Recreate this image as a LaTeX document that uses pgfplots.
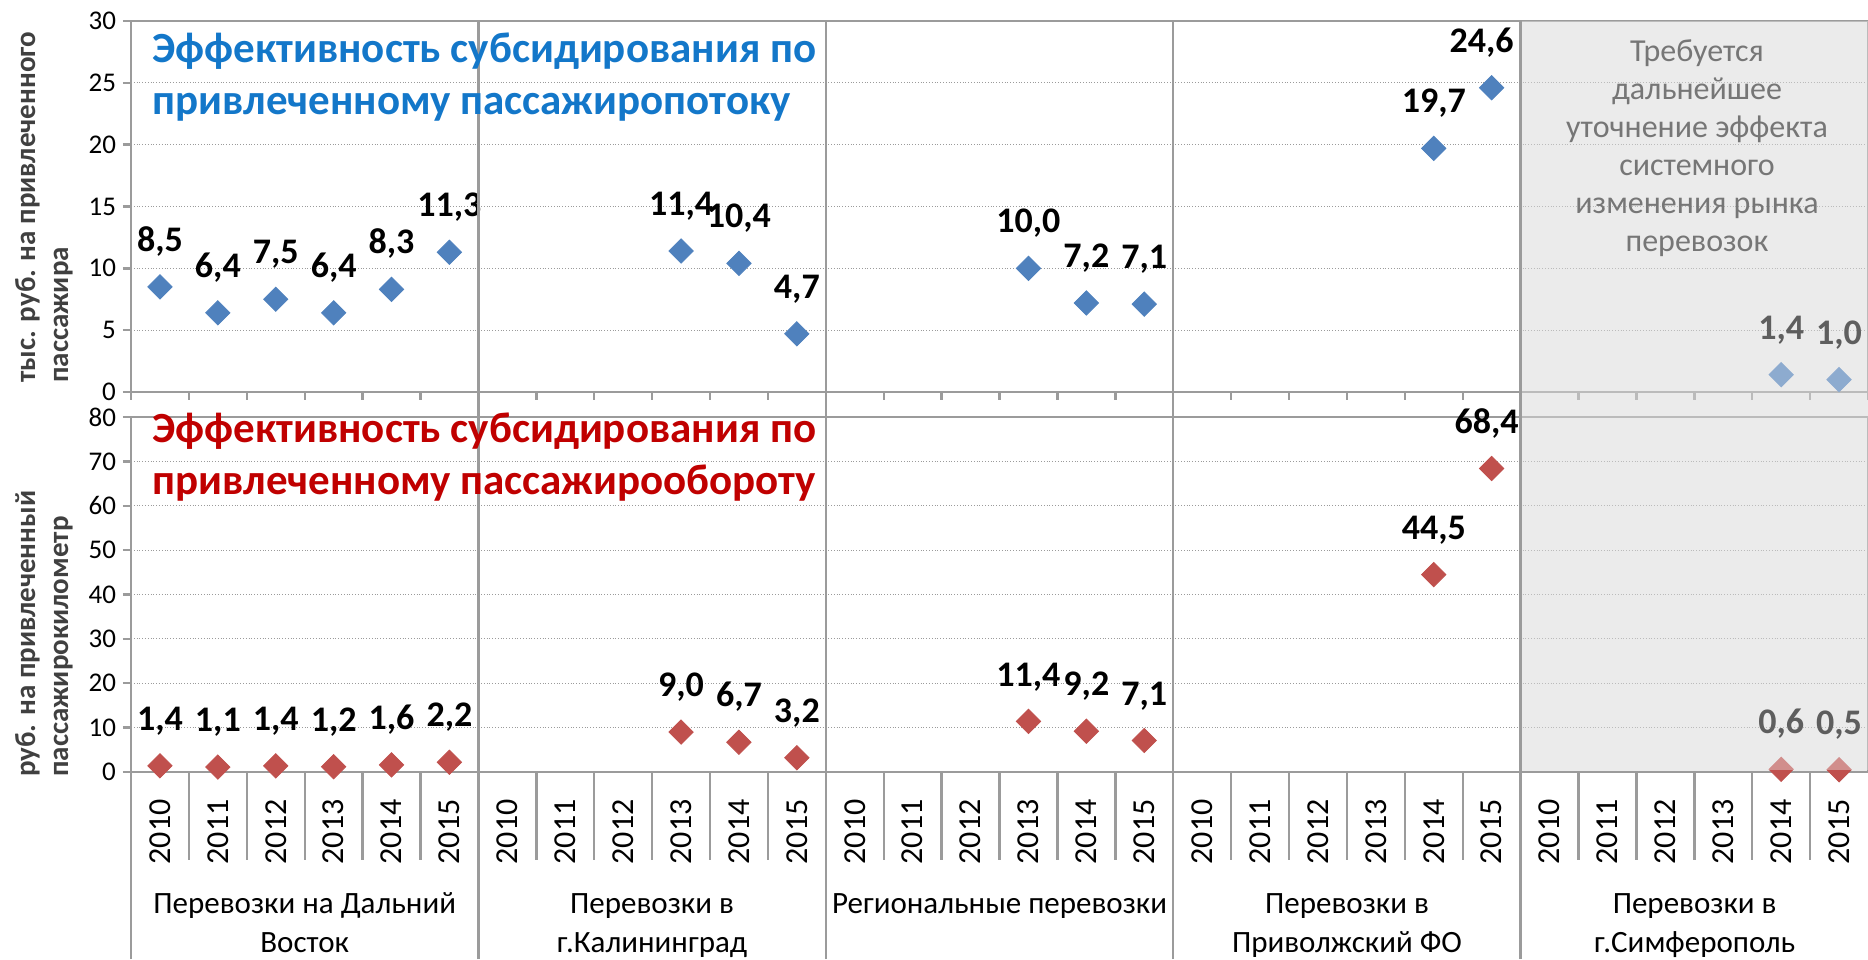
\documentclass[border=0pt]{standalone}
\usepackage{pgfplots}
\usepackage{pgfplotstable}
\pgfplotsset{compat=1.18}
\usepackage{fontspec}
\setmainfont{Carlito}
\definecolor{cblue}{HTML}{4F81BD}
\definecolor{cred}{HTML}{C0504D}
\definecolor{tblue}{HTML}{1377C9}
\definecolor{tred}{HTML}{C00000}
\definecolor{greybg}{HTML}{EBEBEB}
\definecolor{axgray}{HTML}{9B9B9B}
\definecolor{gridgray}{HTML}{9B9B9B}
\definecolor{txtgray}{HTML}{767676}
\definecolor{ytitle}{HTML}{404040}

\pgfplotstableread{
x y dx
0 8.5 0
1 6.4 0
2 7.5 0
3 6.4 0
4 8.3 0
5 11.3 0
9 11.4 0
10 10.4 0
11 4.7 0
15 10.0 0
16 7.2 0
17 7.1 0
22 19.7 0
23 24.6 -5
28 1.4 0
29 1.0 0
}\topdata

\pgfplotstableread{
x y dx
0 1.4 0
1 1.1 0
2 1.4 0
3 1.2 0
4 1.6 0
5 2.2 0
9 9.0 0
10 6.7 0
11 3.2 0
15 11.4 0
16 9.2 0
17 7.1 0
22 44.5 0
23 68.4 -2.5
28 0.6 0
29 0.5 0
}\botdata

\pgfplotsset{
  panel/.style={
    scale only axis, width=868.5pt, xmin=-0.5, xmax=29.5,
    anchor=south west, clip=false,
    axis line style={axgray, line width=1.2pt},
    ymajorgrids, grid style={densely dotted, gridgray, line width=0.6pt},
    tick align=outside, major tick length=4pt,
    tick style={axgray, line width=1.2pt},
    ytick pos=left, xtick pos=lower,
    /pgf/number format/assume math mode=true,
    yticklabel style={font=\fontsize{13.5pt}{14pt}\selectfont, text=black},
  },
  dmark/.style={only marks, mark=square*, mark size=4.3pt, mark options={rotate=45, draw=#1, fill=#1},
    visualization depends on={\thisrow{dx} \as \dx},
    nodes near coords={\pgfmathprintnumber[fixed,fixed zerofill,precision=1,use comma]{\pgfplotspointmeta}},
    every node near coord/.append style={font=\bfseries\fontsize{18pt}{18pt}\selectfont, text=black, inner sep=0pt, text depth=0pt, yshift=17.5pt, xshift=\dx pt},
  },
}

\begin{document}
\begin{tikzpicture}
\path[use as bounding box] (0pt,0pt) rectangle (934pt,479.5pt);
\fill[greybg] (760.3pt,93.5pt) rectangle (934pt,469pt);

\begin{axis}[panel, at={(65.5pt,283.5pt)}, height=185.5pt,
  ymin=0, ymax=30, ytick={0,5,...,30},
  xtick={-0.5,0.5,...,29.5}, xticklabels={}]
\addplot[dmark=cblue] table {\topdata};
\end{axis}

\begin{axis}[panel, at={(65.5pt,93.5pt)}, height=177.5pt,
  ymin=0, ymax=80, ytick={0,10,...,80},
  xtick={0,...,29},
  xticklabels={2010,2011,2012,2013,2014,2015,2010,2011,2012,2013,2014,2015,2010,2011,2012,2013,2014,2015,2010,2011,2012,2013,2014,2015,2010,2011,2012,2013,2014,2015},
  x tick style={draw=none},
  xticklabel style={rotate=90, anchor=east, font=\fontsize{16pt}{16pt}\selectfont, text=black},
  xticklabel shift=6.2pt]
\addplot[dmark=cred] table {\botdata};
\pgfplotsinvokeforeach{0.5,1.5,...,28.5}{\draw[axgray, line width=1.2pt] (axis cs:#1,0) -- ([yshift=-44pt]axis cs:#1,0);}
\end{axis}

% overlay lightening the last group
\fill[greybg, fill opacity=0.4] (760.3pt,94.3pt) rectangle (934pt,469pt);
\foreach \gx in {239.2,412.9,586.6,760.3} \draw[axgray, line width=1.2pt] (\gx pt,0pt) -- (\gx pt,469.6pt);
\draw[axgray, line width=1.2pt] (65.5pt,0pt) -- (65.5pt,93.5pt);

% titles
\begin{scope}[every node/.style={anchor=base west, inner sep=0pt, font=\bfseries\fontsize{21.5pt}{24pt}\selectfont}]
\node[text=tblue] at (76pt,448pt) {Эффективность субсидирования по};
\node[text=tblue] at (76pt,422pt) {привлеченному пассажиропотоку};
\node[text=tred] at (76pt,258pt) {Эффективность субсидирования по};
\node[text=tred] at (76pt,232pt) {привлеченному пассажирообороту};
\end{scope}

% y titles
\begin{scope}[every node/.style={rotate=90, anchor=base west, inner sep=0pt, text=ytitle, font=\bfseries\fontsize{14.5pt}{16pt}\selectfont}]
\node at (17.5pt,288pt) {тыс. руб. на привлеченного};
\node at (34pt,288pt) {пассажира};
\node at (17.5pt,91pt) {руб. на привлеченный};
\node at (34pt,91pt) {пассажирокилометр};
\end{scope}

% grey note
\begin{scope}[every node/.style={anchor=base, inner sep=0pt, text=txtgray, font=\fontsize{16pt}{18pt}\selectfont}]
\node at (848.5pt,448.5pt) {Требуется};
\node at (848.5pt,429.5pt) {дальнейшее};
\node at (848.5pt,410.5pt) {уточнение эффекта};
\node at (848.5pt,391.5pt) {системного};
\node at (848.5pt,372.5pt) {изменения рынка};
\node at (848.5pt,353.5pt) {перевозок};
\end{scope}

% group labels
\begin{scope}[every node/.style={anchor=base, inner sep=0pt, text=black, font=\fontsize{15.5pt}{18pt}\selectfont}]
\node at (152.35pt,23pt) {Перевозки на Дальний};
\node at (152.35pt,3.5pt) {Восток};
\node at (326pt,23pt) {Перевозки в};
\node at (326pt,3.5pt) {г.Калининград};
\node at (499.75pt,23pt) {Региональные перевозки};
\node at (673.5pt,23pt) {Перевозки в};
\node at (673.5pt,3.5pt) {Приволжский ФО};
\node at (847.3pt,23pt) {Перевозки в};
\node at (847.3pt,3.5pt) {г.Симферополь};
\end{scope}
\end{tikzpicture}
\end{document}
